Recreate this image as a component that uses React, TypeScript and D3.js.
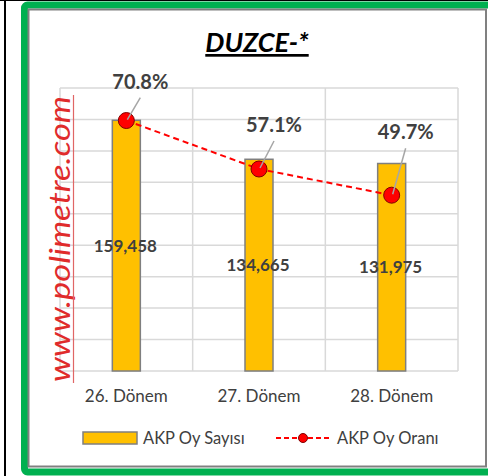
import React from 'react'
import * as d3 from 'd3'

const categories = ['26. Dönem', '27. Dönem', '28. Dönem']
const votes = [159458, 134665, 131975]
const rates = [70.8, 57.1, 49.7]
const voteTicks = [0, 20000, 40000, 60000, 80000, 100000, 120000, 140000, 160000, 180000]
// where Excel put the percent labels, relative to the marker
const labelOffsets = [[14, -32], [15, -37], [14, -56]]

const W = 488
const H = 476
const plot = { left: 60, right: 458, top: 88, bottom: 371 }
const font = 'Lato, "Open Sans", sans-serif'

const App = () => {
  const x = d3.scaleBand().domain(categories).range([plot.left, plot.right])
  const y = d3.scaleLinear().domain([0, 180000]).range([plot.bottom, plot.top])
  const y2 = d3.scaleLinear().domain([0, 80]).range([plot.bottom, plot.top])
  const cx = (c: string) => (x(c) as number) + x.bandwidth() / 2
  const barW = 28
  const fmt = d3.format(',')

  const line = d3.line<number>()
    .x((d, i) => cx(categories[i]))
    .y(d => y2(d))

  return (
    <svg width={W} height={H} style={{ position: 'absolute', left: 0, top: 0 }}>
      <rect width={W} height={H} fill="#fff" />
      <line x1={5} x2={5} y1={0} y2={H} stroke="#000" strokeWidth={2} />
      <line x1={0} x2={W} y1={0.5} y2={0.5} stroke="#000" strokeWidth={1} />
      <rect x={24.5} y={5} width={470} height={467} rx={3} fill="#fff" stroke="#00b050" strokeWidth={7} />
      <rect x={28.5} y={9.5} width={457.5} height={457} fill="#fff" stroke="#808080" strokeWidth={2} />

      <text x={257} y={52} textAnchor="middle" fontFamily={font} fontSize={27} fontWeight="bold"
        fontStyle="italic" textDecoration="underline" fill="#000">DUZCE-*</text>

      {voteTicks.map(t => (
        <line key={t} x1={plot.left} x2={plot.right} y1={y(t)} y2={y(t)} stroke="#d9d9d9" strokeWidth={1.5} />
      ))}
      {[...categories.map(c => x(c) as number), plot.right].map((v, i) => (
        <line key={i} x1={v} x2={v} y1={plot.top} y2={plot.bottom} stroke="#d9d9d9" strokeWidth={1.5} />
      ))}

      <g transform="translate(70,239) rotate(-90)">
        <text x={0} y={0} textAnchor="middle" fontFamily={font} fontSize={29} fontStyle="italic"
          fill="#e02b2b" textLength={286} lengthAdjust="spacingAndGlyphs">www.polimetre.com</text>
        <line x1={-144} x2={144} y1={3.5} y2={3.5} stroke="#e06666" strokeWidth={1.2} />
      </g>

      {categories.map((c, i) => (
        <g key={c}>
          <rect x={cx(c) - barW / 2} y={y(votes[i])} width={barW} height={plot.bottom - y(votes[i])}
            fill="#ffc000" stroke="#7f7f7f" strokeWidth={1.5} />
          <text x={cx(c) - 1} y={(y(votes[i]) + plot.bottom) / 2 + 6} textAnchor="middle" fontFamily={font}
            fontSize={17} fontWeight="bold" fill="#404040">{fmt(votes[i])}</text>
          <text x={cx(c)} y={402} textAnchor="middle" fontFamily={font} fontSize={17} fill="#404040">{c}</text>
        </g>
      ))}

      <path d={line(rates) as string} fill="none" stroke="#ff0000" strokeWidth={2} strokeDasharray="6,4" />
      {rates.map((r, i) => (
        <circle key={i} cx={cx(categories[i])} cy={y2(r)} r={8} fill="#ff0000" stroke="#800000" strokeWidth={1} />
      ))}
      {rates.map((r, i) => {
        const mx = cx(categories[i])
        const my = y2(r)
        const [dx, dy] = labelOffsets[i]
        return (
          <g key={i}>
            <line x1={mx + dx} y1={my + dy + 9} x2={mx + 1} y2={my - 1} stroke="#a6a6a6" strokeWidth={1.5} />
            <text x={mx + dx} y={my + dy} textAnchor="middle" fontFamily={font} fontSize={20}
              fontWeight="bold" fill="#404040">{r.toFixed(1)}%</text>
          </g>
        )
      })}

      <rect x={83} y={432} width={54} height={12} fill="#ffc000" stroke="#7f7f7f" strokeWidth={1.5} />
      <text x={143} y={444} fontFamily={font} fontSize={16.5} fill="#404040">AKP Oy Sayısı</text>
      <line x1={276} x2={330} y1={438} y2={438} stroke="#ff0000" strokeWidth={2} strokeDasharray="5,3" />
      <circle cx={303} cy={438} r={4.5} fill="#ff0000" stroke="#800000" strokeWidth={1} />
      <text x={337} y={444} fontFamily={font} fontSize={16.5} fill="#404040">AKP Oy Oranı</text>
    </svg>
  )
}

export default App
